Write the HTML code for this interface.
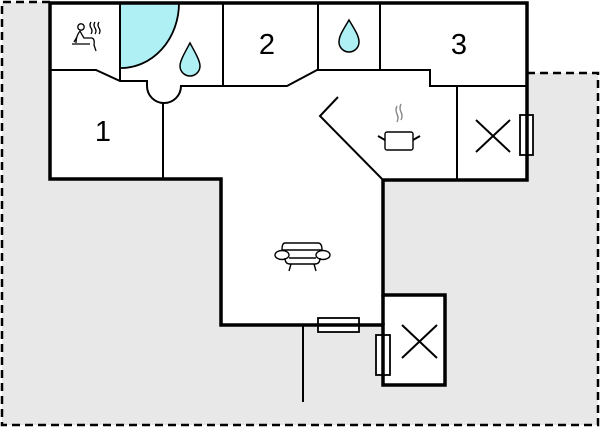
<!DOCTYPE html>
<html><head><style>body{margin:0;background:#fff}svg{display:block}</style></head><body>
<svg width="600" height="427" viewBox="0 0 600 427" xmlns="http://www.w3.org/2000/svg">
<path d="M2 2 H50 V179 H221 V325 H383 V385 H445 V295 H383 V180 H527 V73 H598 V425 H2 Z" fill="#e8e8e8"/>
<path d="M50 2 H2 V425 H598 V73 H527" fill="none" stroke="#000" stroke-width="2.5" stroke-dasharray="8,5"/>
<path d="M120 3 V68 A58 65 0 0 0 179 3 Z" fill="#aef0f4" stroke="#000" stroke-width="1.8"/>
<g fill="none" stroke="#000" stroke-width="2">
<path d="M51 70 H96 L120 81 H147 V86 A17 17 0 0 0 181 86 H287 L317 70 H430 V86 H527"/>
<path d="M120 3 V81 M223 3 V86 M318 3 V70 M380 3 V70 M163 103 V179 M457 86 V180"/>
<path d="M338 97 L320 116 L383 180"/>
<path d="M476 120 L510 152 M510 120 L476 152 M402 325 L437 358 M437 325 L402 358"/>
<path d="M303 325 V402"/>
</g>
<g fill="#fff" stroke="#000" stroke-width="1.8">
<rect x="520" y="115" width="13" height="40"/>
<rect x="318" y="318" width="41" height="14"/>
<rect x="376" y="335" width="14" height="40"/>
</g>
<path d="M50 179 V3 H527 V180 H383 V295 H445 V385 H383 V325 H221 V179 Z" fill="none" stroke="#000" stroke-width="3.5"/>
<path d="M383 295 V325" stroke="#000" stroke-width="3.5"/>
<g font-family="Liberation Sans, sans-serif" font-size="29" text-anchor="middle">
<text x="103" y="141">1</text><text x="267" y="54">2</text><text x="459" y="54">3</text>
</g>
<g fill="#aef0f4" stroke="#000" stroke-width="1.5">
<path d="M190 43 C184 54 180 61 180 66 A10 10 0 0 0 200 66 C200 61 196 54 190 43 Z"/>
<path d="M349 20 C343 30 339 36 339 42 A10 10 0 0 0 359 42 C359 36 355 30 349 20 Z"/>
</g>
<g fill="none" stroke="#000" stroke-width="1.3">
<circle cx="81" cy="27" r="3.2"/>
<path d="M80 31 Q76 36 76 43 M80 31 Q82 35 84 38 H92 Q95 39 94 45 L96 51 M77 37 L74 42 M72 44 H90"/>
<path d="M91 22 q-2 3 0 6 q2 3 0 6 M95 22 q-2 3 0 6 q2 3 0 6 M99 22 q-2 3 0 6 q2 3 0 6"/>
</g>
<g fill="none" stroke="#000" stroke-width="1.4">
<path d="M397 106 q-2 4 0 8 q2 4 0 8 M401 104 q-2 4 0 8 q2 4 0 8" stroke="#888"/>
<rect x="385" y="132" width="28" height="18" rx="2"/>
<path d="M378 136 L385 140 M420 136 L413 140" stroke-width="2"/>
<path d="M285 243 H318 Q322 243 322 250 H282 Q282 243 285 243 Z"/>
<ellipse cx="282" cy="255" rx="7" ry="4.5"/><ellipse cx="323" cy="255" rx="7" ry="4.5"/>
<path d="M285 258 Q285 264 290 264 H315 Q320 264 320 258 M289 258 H316 M291 264 L289 271 M314 264 L316 271"/>
</g>
</svg>
</body></html>
